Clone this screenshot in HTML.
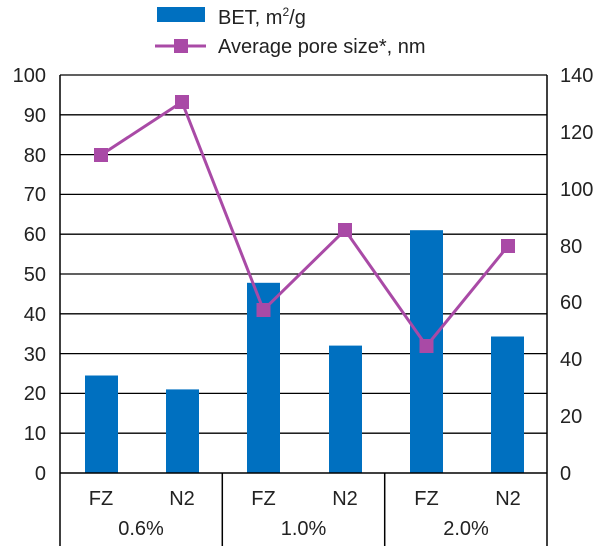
<!DOCTYPE html>
<html><head><style>body{margin:0;background:#fff}</style></head><body>
<svg width="612" height="546" xmlns="http://www.w3.org/2000/svg" font-family="Liberation Sans, sans-serif" font-size="20" fill="#222">
<g stroke="#000" stroke-width="1.3">
<line x1="60" x2="547" y1="75" y2="75"/><line x1="60" x2="547" y1="114.8" y2="114.8"/><line x1="60" x2="547" y1="154.6" y2="154.6"/><line x1="60" x2="547" y1="194.4" y2="194.4"/><line x1="60" x2="547" y1="234.2" y2="234.2"/><line x1="60" x2="547" y1="274" y2="274"/><line x1="60" x2="547" y1="313.8" y2="313.8"/><line x1="60" x2="547" y1="353.6" y2="353.6"/><line x1="60" x2="547" y1="393.4" y2="393.4"/><line x1="60" x2="547" y1="433.2" y2="433.2"/>
</g>
<g fill="#0070c0">
<rect x="85" y="375.5" width="33" height="97.5"/>
<rect x="166" y="389.4" width="33" height="83.6"/>
<rect x="247" y="282.8" width="33" height="190.2"/>
<rect x="329" y="345.6" width="33" height="127.4"/>
<rect x="410" y="230.2" width="33" height="242.8"/>
<rect x="491" y="336.5" width="33" height="136.5"/>
</g>
<g stroke="#000" stroke-width="1.5">
<line x1="60" x2="60" y1="75" y2="546"/><line x1="547" x2="547" y1="75" y2="473"/>
<line x1="60" x2="547" y1="473" y2="473"/>
<line x1="222.3" x2="222.3" y1="473" y2="546"/><line x1="384.7" x2="384.7" y1="473" y2="546"/><line x1="547" x2="547" y1="473" y2="546"/>
</g>
<polyline points="101,155 182,102 263.5,310 345,230 426.5,346 508,246" fill="none" stroke="#a94aa6" stroke-width="3"/>
<g fill="#a94aa6">
<rect x="94" y="148" width="14" height="14"/><rect x="175" y="95" width="14" height="14"/><rect x="256.5" y="303" width="14" height="14"/><rect x="338" y="223" width="14" height="14"/><rect x="419.5" y="339" width="14" height="14"/><rect x="501" y="239" width="14" height="14"/>
</g>
<g text-anchor="end">
<text x="46" y="82">100</text><text x="46" y="122">90</text><text x="46" y="162">80</text><text x="46" y="201">70</text><text x="46" y="241">60</text><text x="46" y="281">50</text><text x="46" y="321">40</text><text x="46" y="361">30</text><text x="46" y="400">20</text><text x="46" y="440">10</text><text x="46" y="480">0</text>
</g>
<g>
<text x="560" y="82">140</text><text x="560" y="139">120</text><text x="560" y="196">100</text><text x="560" y="253">80</text><text x="560" y="309">60</text><text x="560" y="366">40</text><text x="560" y="423">20</text><text x="560" y="480">0</text>
</g>
<g text-anchor="middle">
<text x="101" y="505">FZ</text><text x="182" y="505">N2</text><text x="263.5" y="505">FZ</text><text x="345" y="505">N2</text><text x="426.5" y="505">FZ</text><text x="508" y="505">N2</text>
<text x="141" y="535">0.6%</text><text x="303.5" y="535">1.0%</text><text x="466" y="535">2.0%</text>
</g>
<rect x="157" y="7" width="48" height="15" fill="#0070c0"/>
<text x="218" y="24">BET, m<tspan font-size="12" dy="-8">2</tspan><tspan dy="8">/g</tspan></text>
<line x1="155" x2="206" y1="46" y2="46" stroke="#a94aa6" stroke-width="3"/>
<rect x="174" y="39" width="14" height="14" fill="#a94aa6"/>
<text x="218" y="53">Average pore size*, nm</text>
</svg>
</body></html>
